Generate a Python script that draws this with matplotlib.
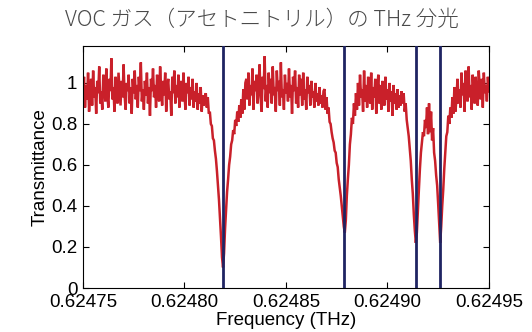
import numpy as np
import matplotlib
matplotlib.use("Agg")
import matplotlib.pyplot as plt
from matplotlib.ticker import FixedLocator, FixedFormatter

plt.rcParams['font.family'] = ['Liberation Sans', 'DejaVu Sans']

# Measured transmittance of acetonitrile gas, sampled every 0.5 MHz
freq_start = 0.62475
freq_stop = 0.62495
transmittance = [
    # baseline, 0.62475 - 0.62481 THz
    0.95, 1.03, 0.88, 0.99, 0.92, 1.05, 0.86, 0.97, 1.02, 0.89,
    1.06, 0.93, 0.98, 0.85, 1.01, 0.95, 1.08, 0.90, 0.96, 0.87,
    1.04, 0.99, 0.91, 1.07, 0.94, 0.88, 1.02, 0.96, 1.12, 0.92,
    0.98, 0.86, 1.03, 0.95, 0.90, 1.05, 0.97, 0.89, 1.01, 0.93,
    1.09, 0.94, 0.87, 1.00, 0.96, 1.04, 0.90, 0.98, 0.85, 1.02,
    0.95, 1.06, 0.92, 0.99, 0.88, 1.03, 0.96, 1.10, 0.91, 0.97,
    0.87, 1.01, 0.94, 1.05, 0.90, 0.98, 0.84, 1.02, 0.96, 1.07,
    0.93, 0.99, 0.88, 1.04, 0.95, 0.91, 1.08, 0.97, 0.89, 1.01,
    0.94, 1.05, 0.86, 0.98, 1.02, 0.92, 0.96, 0.84, 1.03, 0.95,
    1.06, 0.90, 0.99, 0.93, 1.04, 0.88, 0.97, 1.01, 0.91, 1.05,
    0.94, 0.87, 1.00, 0.95, 1.03, 0.89, 0.98, 0.92, 1.02, 0.88,
    0.96, 0.91, 1.00, 0.87, 0.95, 0.90, 0.98, 0.86, 0.94, 0.89,
    0.93,
    # first absorption line
    0.95, 0.88, 0.93, 0.85, 0.86, 0.80, 0.79, 0.73, 0.72, 0.67,
    0.63, 0.57, 0.50, 0.43, 0.34, 0.25, 0.15, 0.10, 0.17, 0.29,
    0.38, 0.47, 0.53, 0.60, 0.64, 0.70, 0.72, 0.77, 0.75, 0.82,
    0.79, 0.86, 0.81, 0.89, 0.83, 0.92, 0.85, 0.97, 0.87, 1.00,
    # baseline
    1.02, 0.92, 1.05, 0.89, 0.99, 0.94, 1.07, 0.87, 1.01, 0.96,
    1.04, 0.90, 0.98, 1.09, 0.93, 0.86, 1.03, 0.97, 1.13, 0.91,
    0.99, 0.88, 1.05, 0.95, 1.02, 0.90, 1.08, 0.94, 0.98, 0.86,
    1.06, 0.96, 1.01, 0.89, 1.10, 0.93, 0.97, 0.87, 1.04, 0.95,
    1.00, 0.91, 1.07, 0.93, 0.99, 0.85, 1.03, 0.96, 1.06, 0.90,
    0.98, 0.88, 1.04, 0.94, 1.02, 0.89, 1.05, 0.92, 0.97, 0.87,
    1.03, 0.95, 0.99, 0.89, 1.01, 0.93, 0.96, 0.88, 1.00, 0.91,
    0.95, 0.89, 0.98, 0.90, 0.94, 0.88, 0.96,
    # second absorption line
    0.97, 0.87, 0.93, 0.85, 0.88, 0.81, 0.80, 0.76, 0.73, 0.71,
    0.67, 0.66, 0.61, 0.59, 0.53, 0.49, 0.45, 0.40, 0.35, 0.30,
    0.27, 0.33, 0.45, 0.53, 0.60, 0.70, 0.75, 0.83, 0.80, 0.90,
    0.84, 0.95, 0.87,
    # baseline
    1.00, 0.89, 1.04, 0.93, 0.97, 0.86, 1.06, 0.91, 0.99, 0.88,
    1.03, 0.95, 0.90, 1.05, 0.87, 0.98, 0.93, 1.02, 0.85, 0.96,
    1.04, 0.90, 0.99, 0.87, 1.01, 0.94, 0.89, 1.03, 0.92, 0.97,
    0.86, 1.00, 0.91, 0.96, 0.84, 0.99, 0.90, 0.95, 0.87, 0.97,
    0.88, 0.94, 0.89, 0.96, 0.90,
    # third and fourth absorption lines
    0.95, 0.86, 0.90, 0.82, 0.78, 0.74, 0.68, 0.62, 0.53, 0.46,
    0.36, 0.28, 0.22, 0.27, 0.38, 0.48, 0.58, 0.66, 0.71, 0.76,
    0.74, 0.82, 0.78, 0.88, 0.75, 0.90, 0.76, 0.86, 0.72, 0.78,
    0.66, 0.62, 0.55, 0.50, 0.41, 0.31, 0.22, 0.30, 0.40, 0.48,
    0.58, 0.66, 0.74, 0.76, 0.84, 0.80, 0.88, 0.83, 0.93, 0.85,
    0.98, 0.86,
    # baseline
    0.92, 1.02, 0.90, 0.97, 0.88, 1.05, 0.94, 1.00, 0.86, 1.06,
    0.95, 0.91, 1.08, 0.93, 0.99, 0.87, 1.04, 0.96, 0.90, 1.03,
    0.94, 0.89, 1.06, 0.97, 0.92, 1.02, 0.88, 1.05, 0.95, 0.99,
    0.91, 1.03, 0.96,
]
frequency = np.linspace(freq_start, freq_stop, len(transmittance))

# Catalogue positions of the absorption lines (THz)
line_centres = [0.6248188, 0.6248788, 0.624914, 0.624926]

x_ticks = [0.62475, 0.62480, 0.62485, 0.62490, 0.62495]
x_tick_labels = ["0.62475", "0.62480", "0.62485", "0.62490", "0.62495"]
y_ticks = [0, 0.2, 0.4, 0.6, 0.8, 1.0]
y_tick_labels = ["0", "0.2", "0.4", "0.6", "0.8", "1"]

fig = plt.figure(figsize=(5.32, 3.32), dpi=100)
ax = fig.add_axes([0.156, 0.1325, 0.763, 0.7289])

ax.plot(frequency, transmittance, color="#c9202a", lw=1.8, zorder=2,
        solid_joinstyle="miter")
for c in line_centres:
    ax.axvline(c, color="#1f2462", lw=2.0, zorder=3)

ax.set_xlim(freq_start, freq_stop)
ax.set_ylim(0, 1.18)
ax.xaxis.set_major_locator(FixedLocator(x_ticks))
ax.xaxis.set_major_formatter(FixedFormatter(x_tick_labels))
ax.yaxis.set_major_locator(FixedLocator(y_ticks))
ax.yaxis.set_major_formatter(FixedFormatter(y_tick_labels))
ax.tick_params(direction="in", top=True, right=True, length=4, width=0.8,
               labelsize=13.5, pad=4)
for s in ax.spines.values():
    s.set_linewidth(0.8)

ax.set_xlabel("Frequency (THz)", fontsize=13.5, labelpad=1)
ax.set_ylabel("Transmittance", fontsize=13.5, labelpad=2)

fig.text(0.493, 0.94, "VOC ガス（アセトニトリル）の THz 分光",
         family=["Noto Sans CJK JP", "DejaVu Sans"], fontsize=15.5,
         fontweight="light", color="#4a4a4a", ha="center", va="center")

fig.savefig("out.png", dpi=100)
